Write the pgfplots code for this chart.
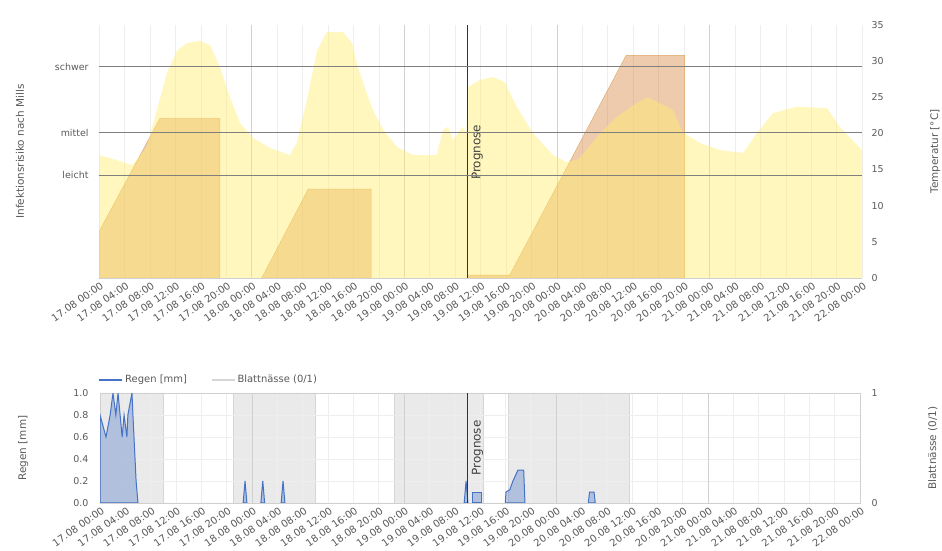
\documentclass[border=0pt]{standalone}
\usepackage{pgfplots}
\pgfplotsset{compat=1.18}
\usepackage{fontspec}
\setmainfont{DejaVu Sans}

\definecolor{txt}{HTML}{595959}
\definecolor{gridmin}{HTML}{EEEEEE}
\definecolor{gridmaj}{HTML}{D0D0D0}
\definecolor{hline}{HTML}{7F7F7F}
\definecolor{orangeF}{RGB}{215,130,60}
\definecolor{orangeE}{RGB}{222,165,95}
\definecolor{tempF}{RGB}{255,238,110}
\definecolor{rainblue}{HTML}{4472C4}
\definecolor{wetgray}{HTML}{D6D6D6}

\pgfplotsset{
  base/.style={
    scale only axis, xmin=0, xmax=120,
    tick style={draw=none},
    font=\fontsize{9.5}{11}\selectfont,
    ticklabel style={text=txt},
    label style={text=txt, font=\fontsize{10.5}{12}\selectfont},
    /pgf/number format/assume math mode=true,
  },
  times/.style={
    xtick={0,4,...,120},
    xticklabels={17.08 00:00,17.08 04:00,17.08 08:00,17.08 12:00,17.08 16:00,17.08 20:00,
      18.08 00:00,18.08 04:00,18.08 08:00,18.08 12:00,18.08 16:00,18.08 20:00,
      19.08 00:00,19.08 04:00,19.08 08:00,19.08 12:00,19.08 16:00,19.08 20:00,
      20.08 00:00,20.08 04:00,20.08 08:00,20.08 12:00,20.08 16:00,20.08 20:00,
      21.08 00:00,21.08 04:00,21.08 08:00,21.08 12:00,21.08 16:00,21.08 20:00,
      22.08 00:00},
    xticklabel style={rotate=35, anchor=north east, inner sep=1bp, yshift=-2bp,
      font=\fontsize{10}{12}\selectfont},
    xmajorgrids, major grid style={gridmin},
    extra x ticks={24,48,72,96}, extra x tick labels={},
    extra x tick style={grid=major, major grid style={gridmaj}},
  },
}

\begin{document}
\begin{tikzpicture}
\path[use as bounding box] (0bp,0bp) rectangle (942bp,551bp);

% ---------- top: Temperatur und Infektionsrisiko ----------
\begin{axis}[base, times,
    at={(99bp,273bp)}, anchor=south west, width=763bp, height=253bp,
    ymin=0, ymax=35,
    axis x line*=bottom, axis y line*=right,
    axis line style={-}, x axis line style={draw=gridmaj}, y axis line style={draw=none},
    ytick={0,5,...,35}, yticklabel style={xshift=6bp},
    ylabel={Temperatur [°C]},
    ylabel style={at={(axis description cs:1.096,0.5)}, anchor=center},
  ]
  % Infektionsrisiko (Mills)
  \addplot[draw=orangeE, fill=orangeF, fill opacity=0.42] coordinates {
    (0,6.4) (9.6,22.1) (19,22.1) (19,0)} \closedcycle;
  \addplot[draw=orangeE, fill=orangeF, fill opacity=0.42] coordinates {
    (25.6,0) (32.9,12.3) (42.8,12.3) (42.8,0)} \closedcycle;
  \addplot[draw=orangeE, fill=orangeF, fill opacity=0.42] coordinates {
    (58,0.4) (64.6,0.4) (82.9,30.8) (92.1,30.8) (92.1,0)} \closedcycle;
  % Temperatur
  \addplot[draw=none, fill=tempF, fill opacity=0.45] coordinates {
    (0,17.0) (2.5,16.4) (5.2,15.6) (7.5,18.1) (9.1,23.2) (10.7,28.4) (12.3,31.5)
    (13.8,32.5) (15.9,32.8) (17.5,32.2) (19,29.2) (20.6,25.0) (22.2,21.4) (24.2,19.4)
    (26.9,18.0) (30,17.0) (31.1,18.7) (32.7,24.6) (34.3,31.5) (35.8,34.0) (38.4,34.0)
    (39.8,32.5) (40.7,29.2) (42.1,25.6) (43.1,23.2) (44.7,20.5) (46.9,18.1) (49.4,17.0)
    (53.1,17.0) (54.1,20.5) (54.9,20.9) (55.7,19.1) (57.1,20.9) (57.8,20.0) (58,26.4)
    (59.9,27.4) (62,27.8) (63.8,27.1) (65.7,23.7) (68.2,20.1) (71.4,17.0) (73.6,16.0)
    (75.5,16.5) (78.3,19.5) (81.4,22.3) (84.6,24.2) (86.2,25.0) (88.2,24.2) (90.3,23.2)
    (91.8,20.1) (94.5,18.7) (97.6,17.7) (101.3,17.3) (103.5,20.1) (106,22.8) (109.7,23.7)
    (114.5,23.5) (116.5,20.9) (120,17.7)} \closedcycle;
  % Prognose
  \addplot[black!80, line width=1.3bp] coordinates {(58,0) (58,35)};
  \node[rotate=90, font=\fontsize{12}{14}\selectfont, text=black!75] at (axis cs:59.5,17.4) {Prognose};
\end{axis}

\begin{axis}[base,
    at={(99bp,273bp)}, anchor=south west, width=763bp, height=253bp,
    ymin=0, ymax=35,
    axis x line=none, axis y line*=left, y axis line style={draw=none},
    ytick={14.2,20.1,29.2}, yticklabels={leicht,mittel,schwer},
    yticklabel style={xshift=-7bp},
    ymajorgrids, major grid style={hline, line width=1.1bp},
    ylabel={Infektionsrisiko nach Mills},
    ylabel style={at={(axis description cs:-0.1035,0.5)}, anchor=center},
  ]
  \addplot[draw=none] coordinates {(0,0)};
\end{axis}

% ---------- bottom: Regen und Blattnässe ----------
\begin{axis}[base,
    at={(100bp,48bp)}, anchor=south west, width=760bp, height=110bp,
    ymin=0, ymax=1,
    axis x line=none, axis y line*=right, y axis line style={draw=none},
    ytick={0,1}, yticklabel style={xshift=8bp},
    ylabel={Blattnässe (0/1)},
    ylabel style={at={(axis description cs:1.096,0.5)}, anchor=center},
  ]
  \addplot[draw=wetgray, fill=wetgray, fill opacity=0.5] coordinates {
    (0,1) (10,1) (10,0) (21,0) (21,1) (34,1) (34,0) (46.5,0) (46.5,1) (60.5,1)
    (60.5,0) (64.5,0) (64.5,1) (83.5,1) (83.5,0) (120,0)} \closedcycle;
\end{axis}

\begin{axis}[base, times,
    at={(100bp,48bp)}, anchor=south west, width=760bp, height=110bp,
    ymin=0, ymax=1,
    axis line style={gridmaj},
    ytick pos=left,
    ytick={0,0.2,0.4,0.6,0.8,1}, yticklabels={0.0,0.2,0.4,0.6,0.8,1.0},
    yticklabel style={xshift=-8bp},
    ymajorgrids,
    ylabel={Regen [mm]},
    ylabel style={at={(axis description cs:-0.101,0.5)}, anchor=center},
    legend style={at={(axis description cs:-0.006,1.04)}, anchor=south west,
      draw=none, fill=none, legend columns=2, text=txt,
      font=\fontsize{10}{12}\selectfont,
      /tikz/every even column/.append style={column sep=22bp}},
    legend cell align=left,
    legend image code/.code={\draw[#1, line width=1.6bp] (0bp,0bp) -- (23bp,0bp);},
  ]
  \addplot[rainblue, line width=1bp, fill=rainblue, fill opacity=0.35] coordinates {
    (0,0.8) (0.95,0.6) (1.6,0.8) (2.05,1.0) (2.5,0.8) (2.85,1.0) (3.5,0.6) (3.8,0.8)
    (4.25,0.6) (4.4,0.8) (5.05,1.0) (5.2,0.8) (5.7,0.2) (6.0,0)} \closedcycle;
  \addlegendentry{Regen [mm]}
  \addplot[rainblue, line width=1bp, fill=rainblue, fill opacity=0.35, forget plot] coordinates {
    (22.6,0) (22.9,0.2) (23.2,0)} \closedcycle;
  \addplot[rainblue, line width=1bp, fill=rainblue, fill opacity=0.35, forget plot] coordinates {
    (25.4,0) (25.7,0.2) (26.0,0)} \closedcycle;
  \addplot[rainblue, line width=1bp, fill=rainblue, fill opacity=0.35, forget plot] coordinates {
    (28.6,0) (28.9,0.2) (29.2,0)} \closedcycle;
  \addplot[rainblue, line width=1bp, fill=rainblue, fill opacity=0.35, forget plot] coordinates {
    (57.5,0) (57.8,0.2) (58.1,0)} \closedcycle;
  \addplot[rainblue, line width=1bp, fill=rainblue, fill opacity=0.35, forget plot] coordinates {
    (58.8,0) (58.8,0.1) (60.2,0.1) (60.2,0)} \closedcycle;
  \addplot[rainblue, line width=1bp, fill=rainblue, fill opacity=0.35, forget plot] coordinates {
    (64.0,0) (64.1,0.1) (64.7,0.12) (65.2,0.2) (66.0,0.3) (66.9,0.3) (67.1,0)} \closedcycle;
  \addplot[rainblue, line width=1bp, fill=rainblue, fill opacity=0.35, forget plot] coordinates {
    (77.1,0) (77.3,0.1) (78.0,0.1) (78.2,0)} \closedcycle;
  \addlegendimage{wetgray}
  \addlegendentry{Blattnässe (0/1)}
  % Prognose
  \addplot[black!80, line width=1.3bp, forget plot] coordinates {(58,0) (58,1)};
  \node[rotate=90, font=\fontsize{12}{14}\selectfont, text=black!75] at (axis cs:59.6,0.5) {Prognose};
\end{axis}
\end{tikzpicture}
\end{document}
